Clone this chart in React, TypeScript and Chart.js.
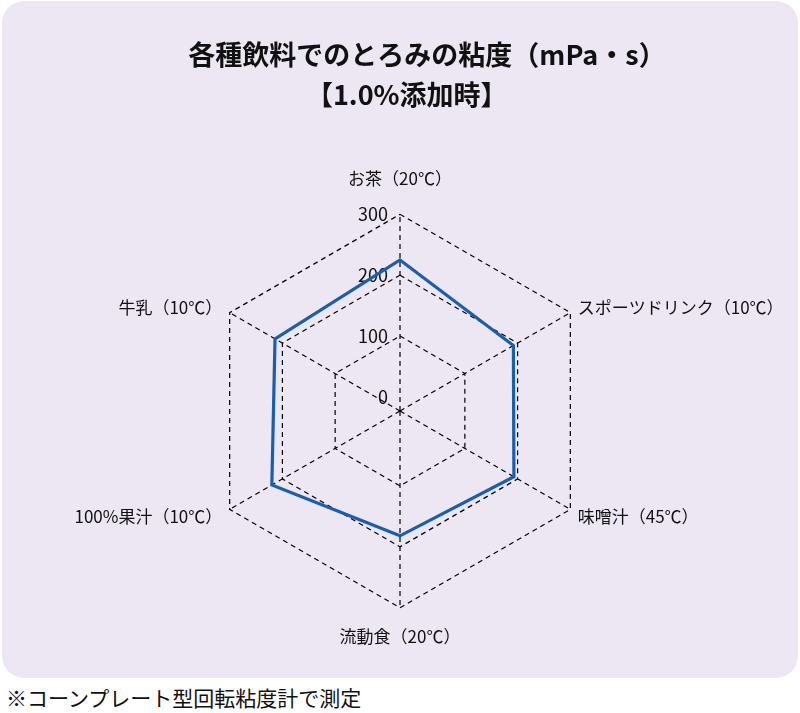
import React, { useEffect, useRef } from "react";
import { Chart, registerables } from "chart.js";

Chart.register(...registerables);

const categories = [
  "お茶（20℃）",
  "スポーツドリンク（10℃）",
  "味噌汁（45℃）",
  "流動食（20℃）",
  "100%果汁（10℃）",
  "牛乳（10℃）",
];
const viscosity = [225, 192, 193, 182, 220, 214];
const tickValues = [0, 100, 200, 300];
const titleLines = ["\u3000\u3000各種飲料でのとろみの粘度（mPa・s）", "\u2002【1.0%添加時】"];
const footnote = "※コーンプレート型回転粘度計で測定";
const scaleMin = -23;
const scaleMax = 300;

const FONT = "'Noto Sans CJK JP', 'Noto Sans', sans-serif";

export default function App() {
  const canvasRef = useRef<HTMLCanvasElement | null>(null);

  useEffect(() => {
    const canvas = canvasRef.current;
    if (!canvas) return;
    const chart = new Chart(canvas, {
      type: "radar",
      data: {
        labels: categories,
        datasets: [
          {
            label: "粘度",
            data: viscosity,
            borderColor: "#1B5EAD",
            backgroundColor: "rgba(0,0,0,0)",
            borderWidth: 3.2,
            pointRadius: 0,
            pointHoverRadius: 0,
            fill: false,
            tension: 0,
          },
        ],
      },
      options: {
        animation: false,
        responsive: false,
        devicePixelRatio: 1,
        layout: { padding: { top: 35, bottom: 28, left: 0, right: 0 } },
        plugins: {
          legend: { display: false },
          tooltip: { enabled: false },
          title: {
            display: true,
            text: titleLines,
            color: "#111",
            font: { family: FONT, size: 27, weight: "bold", lineHeight: 1.48 },
            padding: { top: 0, bottom: 49 },
          },
        },
        scales: {
          r: {
            min: scaleMin,
            max: scaleMax,
            bounds: "data",
            afterBuildTicks: (scale: any) => {
              scale.ticks = tickValues.map((v) => ({ value: v }));
              scale.min = scaleMin;
              scale.max = scaleMax;
            },
            ticks: {
              display: true,
              showLabelBackdrop: false,
              color: "#111",
              font: { family: FONT, size: 18 },
              callback: (v: any) =>
                String(v).padStart(3, "\u2007") + "\u3000\u3000\u3000",
            },
            grid: {
              circular: false,
              color: (ctx: any) =>
                ctx.tick && ctx.tick.value === 0 ? "rgba(0,0,0,0)" : "#000",
              lineWidth: 1.2,
            },
            border: { dash: [5, 4] },
            angleLines: {
              display: true,
              color: "#000",
              lineWidth: 1.2,
              borderDash: [5, 4],
            },
            pointLabels: {
              display: true,
              color: "#111",
              padding: (ctx: any) =>
                ctx.index === 0 ? 15 : ctx.index === 3 ? 8 : -2.5,
              font: (ctx: any) => {
                const i = ctx.index;
                let lh = 1.2;
                if (i === 1 || i === 5) lh = 0.1;
                if (i === 2 || i === 4) lh = 0.38;
                return { family: FONT, size: 17, lineHeight: lh };
              },
            },
          },
        },
      },
    });
    return () => chart.destroy();
  }, []);

  return (
    <div
      style={{
        position: "absolute",
        left: 0,
        top: 0,
        width: 800,
        height: 713,
        overflow: "hidden",
        background: "#ffffff",
      }}
    >
      <div
        style={{
          position: "absolute",
          left: 2,
          top: 1,
          width: 796,
          height: 677,
          borderRadius: 22,
          background: "#ECE7F2",
        }}
      />
      <canvas
        ref={canvasRef}
        width={860}
        height={680}
        style={{ position: "absolute", left: -30, top: 0, width: 860, height: 680 }}
      />
      <div
        style={{
          position: "absolute",
          left: 6,
          top: 685,
          fontFamily: FONT,
          fontSize: 21,
          lineHeight: "25px",
          color: "#111",
          whiteSpace: "nowrap",
        }}
      >
        {footnote}
      </div>
    </div>
  );
}
